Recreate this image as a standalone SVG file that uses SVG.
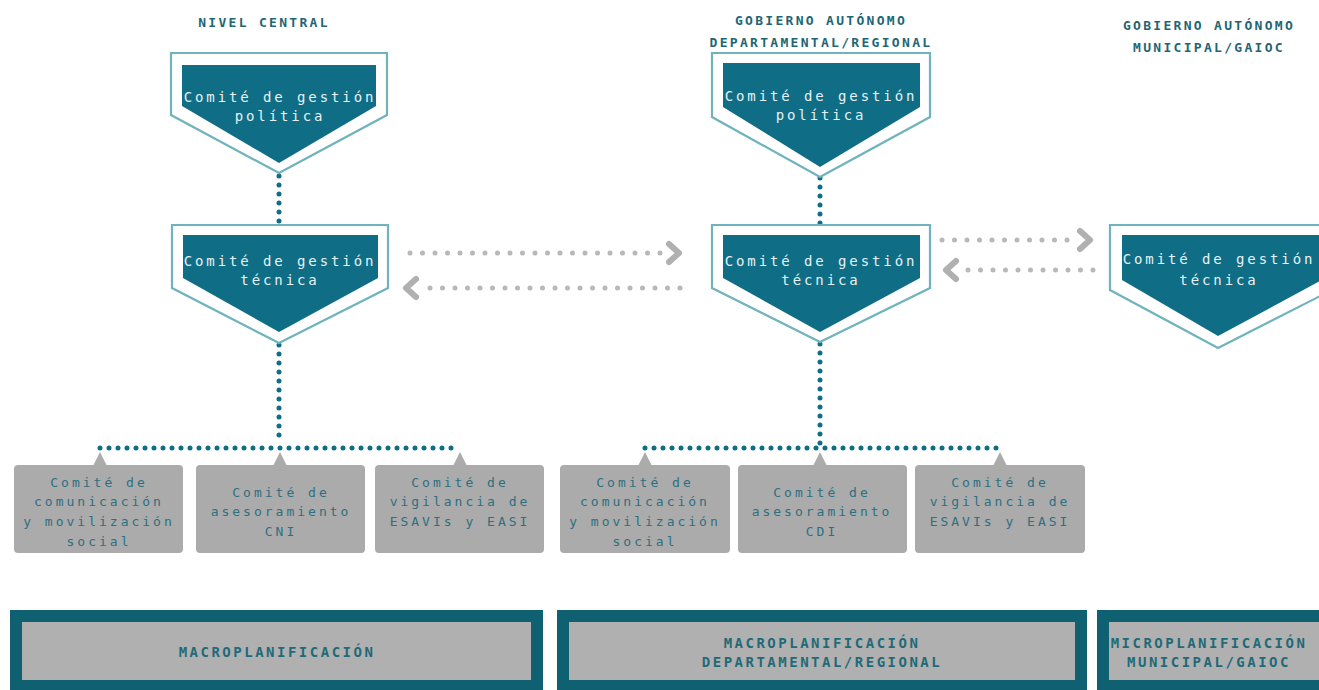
<svg xmlns="http://www.w3.org/2000/svg" width="1319" height="690" viewBox="0 0 1319 690">
<style>
.title{font-family:"DejaVu Sans Mono","Liberation Mono",monospace;font-weight:bold;font-size:13px;fill:#1f6675;letter-spacing:2.3px;text-anchor:middle}
.outline{fill:#ffffff;stroke:#6fb3bd;stroke-width:2.2}
.inner{fill:#0f6d85}
.ntext{font-family:"DejaVu Sans Mono","Liberation Mono",monospace;font-size:14px;fill:#e6f1f3;letter-spacing:2.9px;text-anchor:middle}
.gbox{fill:#ababab}
.gtext{font-family:"DejaVu Sans Mono","Liberation Mono",monospace;font-size:13px;fill:#2e6f80;letter-spacing:3px;text-anchor:middle}
.bout{fill:#0f6070}
.bin{fill:#b0b0b0}
.btext{font-family:"DejaVu Sans Mono","Liberation Mono",monospace;font-weight:bold;font-size:14px;fill:#1f6a78;letter-spacing:2.5px;text-anchor:middle}
.tdots{fill:none;stroke:#0f6d85;stroke-width:5;stroke-linecap:round;stroke-dasharray:0 9}
.gdots{fill:none;stroke:#b8b8b8;stroke-width:5;stroke-linecap:round;stroke-dasharray:0 12.5}
.chev{fill:none;stroke:#b0b0b0;stroke-width:6;stroke-linecap:round;stroke-linejoin:round}
</style>
<rect width="1319" height="690" fill="#ffffff"/>
<g id="titles">
<text class="title" x="264" y="27">NIVEL CENTRAL</text>
<text class="title" x="821" y="25">GOBIERNO AUTÓNOMO</text>
<text class="title" x="821" y="47">DEPARTAMENTAL/REGIONAL</text>
<text class="title" x="1209" y="30">GOBIERNO AUTÓNOMO</text>
<text class="title" x="1209" y="52">MUNICIPAL/GAIOC</text>
</g>
<g id="connectors">
<path class="tdots" d="M279 176 V224"/>
<path class="tdots" d="M279 345 V444"/>
<path class="tdots" d="M100 448 H460"/>
<path class="tdots" d="M820 178 V224"/>
<path class="tdots" d="M820 344 V444"/>
<path class="tdots" d="M645 448 H1000"/>
<path class="gdots" d="M410 253 H665"/>
<path class="chev" d="M669 244 L679 253 L669 262"/>
<path class="gdots" d="M680 288 H425"/>
<path class="chev" d="M416 279 L406 288 L416 297"/>
<path class="gdots" d="M942 240 H1075"/>
<path class="chev" d="M1080 231 L1090 240 L1080 249"/>
<path class="gdots" d="M1093 270 H960"/>
<path class="chev" d="M956 261 L946 270 L956 279"/>
</g>
<g id="central-politica">
<polygon class="outline" points="171,53 387,53 387,115 279,173 171,115"/>
<polygon class="inner" points="182,65 376,65 376,106 279,163 182,106"/>
<text class="ntext" x="280" y="102">Comité de gestión</text>
<text class="ntext" x="280" y="121">política</text>
</g>
<g id="central-tecnica">
<polygon class="outline" points="172,225 388,225 388,288 279,343 172,288"/>
<polygon class="inner" points="183,235 378,235 378,278 279,332 183,278"/>
<text class="ntext" x="280" y="266">Comité de gestión</text>
<text class="ntext" x="280" y="285">técnica</text>
</g>
<g id="dep-politica">
<polygon class="outline" points="712,53 930,53 930,117 820,177 712,117"/>
<polygon class="inner" points="723,63 920,63 920,107 820,167 723,107"/>
<text class="ntext" x="821" y="101">Comité de gestión</text>
<text class="ntext" x="821" y="120">política</text>
</g>
<g id="dep-tecnica">
<polygon class="outline" points="712,225 930,225 930,288 820,342 712,288"/>
<polygon class="inner" points="723,235 920,235 920,278 820,332 723,278"/>
<text class="ntext" x="821" y="266">Comité de gestión</text>
<text class="ntext" x="821" y="285">técnica</text>
</g>
<g id="mun-tecnica">
<polygon class="outline" points="1110,225 1332,225 1332,290 1218,348 1110,290"/>
<polygon class="inner" points="1122,235 1322,235 1322,280 1218,336 1122,280"/>
<text class="ntext" x="1219" y="264">Comité de gestión</text>
<text class="ntext" x="1219" y="285">técnica</text>
</g>
<g id="central-comunicacion">
<rect class="gbox" x="14" y="465" width="169" height="88" rx="4"/>
<polygon class="gbox" points="93,466 100,452 107,466"/>
<text class="gtext" x="99" y="487">Comité de</text>
<text class="gtext" x="99" y="506">comunicación</text>
<text class="gtext" x="99" y="526">y movilización</text>
<text class="gtext" x="99" y="546">social</text>
</g>
<g id="central-asesoramiento">
<rect class="gbox" x="196" y="465" width="169" height="88" rx="4"/>
<polygon class="gbox" points="273,466 280,452 287,466"/>
<text class="gtext" x="281" y="497">Comité de</text>
<text class="gtext" x="281" y="516">asesoramiento</text>
<text class="gtext" x="281" y="536">CNI</text>
</g>
<g id="central-vigilancia">
<rect class="gbox" x="375" y="465" width="169" height="88" rx="4"/>
<polygon class="gbox" points="453,466 460,452 467,466"/>
<text class="gtext" x="460" y="487">Comité de</text>
<text class="gtext" x="460" y="506">vigilancia de</text>
<text class="gtext" x="460" y="526">ESAVIs y EASI</text>
</g>
<g id="dep-comunicacion">
<rect class="gbox" x="560" y="465" width="170" height="88" rx="4"/>
<polygon class="gbox" points="638,466 645,452 652,466"/>
<text class="gtext" x="645" y="487">Comité de</text>
<text class="gtext" x="645" y="506">comunicación</text>
<text class="gtext" x="645" y="526">y movilización</text>
<text class="gtext" x="645" y="546">social</text>
</g>
<g id="dep-asesoramiento">
<rect class="gbox" x="738" y="465" width="169" height="88" rx="4"/>
<polygon class="gbox" points="813,466 820,452 827,466"/>
<text class="gtext" x="822" y="497">Comité de</text>
<text class="gtext" x="822" y="516">asesoramiento</text>
<text class="gtext" x="822" y="536">CDI</text>
</g>
<g id="dep-vigilancia">
<rect class="gbox" x="915" y="465" width="170" height="88" rx="4"/>
<polygon class="gbox" points="993,466 1000,452 1007,466"/>
<text class="gtext" x="1000" y="487">Comité de</text>
<text class="gtext" x="1000" y="506">vigilancia de</text>
<text class="gtext" x="1000" y="526">ESAVIs y EASI</text>
</g>
<g id="macro-central">
<rect class="bout" x="10" y="610" width="533" height="85"/>
<rect class="bin" x="22" y="622" width="509" height="58"/>
<text class="btext" x="277" y="657">MACROPLANIFICACIÓN</text>
</g>
<g id="macro-dep">
<rect class="bout" x="557" y="610" width="530" height="85"/>
<rect class="bin" x="569" y="622" width="506" height="58"/>
<text class="btext" x="822" y="648">MACROPLANIFICACIÓN</text>
<text class="btext" x="822" y="667">DEPARTAMENTAL/REGIONAL</text>
</g>
<g id="micro-mun">
<rect class="bout" x="1097" y="610" width="240" height="85"/>
<rect class="bin" x="1109" y="622" width="220" height="58"/>
<text class="btext" x="1209" y="648">MICROPLANIFICACIÓN</text>
<text class="btext" x="1209" y="667">MUNICIPAL/GAIOC</text>
</g>
</svg>
